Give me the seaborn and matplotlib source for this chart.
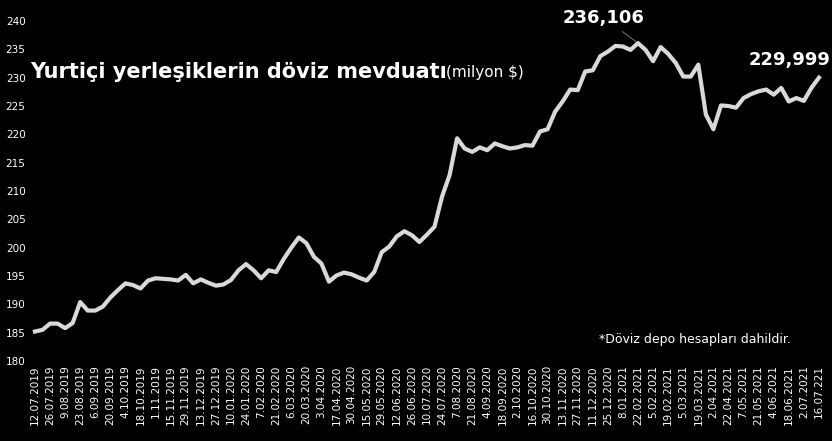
import matplotlib
matplotlib.use("Agg")
import matplotlib.pyplot as plt
import seaborn as sns

degerler = [185.2, 185.5, 186.6, 186.6, 185.8, 186.7, 190.4, 188.9, 188.9, 189.6,
            191.2, 192.5, 193.7, 193.4, 192.8, 194.2, 194.6, 194.5, 194.4, 194.2,
            195.2, 193.7, 194.4, 193.8, 193.3, 193.5, 194.3, 196.0, 197.1, 196.0,
            194.6, 196.0, 195.7, 198.0, 200.0, 201.8, 200.8, 198.4, 197.2, 194.0,
            195.1, 195.6, 195.3, 194.7, 194.2, 195.7, 199.2, 200.2, 202.0, 202.9,
            202.2, 201.0, 202.3, 203.7, 209.0, 212.8, 219.3, 217.5, 216.9, 217.7,
            217.2, 218.4, 217.9, 217.5, 217.7, 218.1, 218.0, 220.5, 220.9, 224.0,
            225.8, 227.9, 227.8, 231.1, 231.3, 233.8, 234.6, 235.6, 235.5, 234.9,
            236.1, 234.9, 232.9, 235.4, 234.2, 232.6, 230.2, 230.2, 232.3, 223.5,
            220.9, 225.1, 225.0, 224.7, 226.4, 227.1, 227.6, 227.9, 227.0, 228.2,
            225.8, 226.4, 225.9, 228.2, 230.0]

etiketler = ["12.07.2019", "26.07.2019", "9.08.2019", "23.08.2019", "6.09.2019",
             "20.09.2019", "4.10.2019", "18.10.2019", "1.11.2019", "15.11.2019",
             "29.11.2019", "13.12.2019", "27.12.2019", "10.01.2020", "24.01.2020",
             "7.02.2020", "21.02.2020", "6.03.2020", "20.03.2020", "3.04.2020",
             "17.04.2020", "30.04.2020", "15.05.2020", "29.05.2020", "12.06.2020",
             "26.06.2020", "10.07.2020", "24.07.2020", "7.08.2020", "21.08.2020",
             "4.09.2020", "18.09.2020", "2.10.2020", "16.10.2020", "30.10.2020",
             "13.11.2020", "27.11.2020", "11.12.2020", "25.12.2020", "8.01.2021",
             "22.02.2021", "5.02.2021", "19.02.2021", "5.03.2021", "19.03.2021",
             "2.04.2021", "22.04.2021", "7.05.2021", "21.05.2021", "4.06.2021",
             "18.06.2021", "2.07.2021", "16.07.221"]

fig = plt.figure(figsize=(8.32, 4.41), dpi=100, facecolor="black")
ax = fig.add_axes([29.7 / 832, 80 / 441, 793 / 832, 340 / 441])
ax.set_facecolor("black")

x = list(range(len(degerler)))
sns.lineplot(x=x, y=degerler, ax=ax, color="#d9d9d9", linewidth=3)

ax.set_xlim(-0.7, 104.5)
ax.set_ylim(180, 240)
ax.set_yticks(range(180, 241, 5))
ax.set_xticks(range(0, len(degerler), 2))
ax.set_xticklabels(etiketler, rotation=90)
ax.tick_params(colors="white", labelsize=7.5, length=0, pad=3)
for s in ax.spines.values():
    s.set_visible(False)
ax.set_xlabel("")
ax.set_ylabel("")

fig.text(30 / 832, 1 - 72 / 441, "Yurtiçi yerleşiklerin döviz mevduatı", color="white",
         fontsize=15, fontweight="bold", va="center")
fig.text(446 / 832, 1 - 72 / 441, "(milyon $)", color="white", fontsize=11, va="center")

ax.annotate("236,106", xy=(80, degerler[80]), xytext=(604 / 832, 1 - 18 / 441),
            textcoords="figure fraction", ha="center", va="center",
            color="white", fontsize=13, fontweight="bold",
            arrowprops=dict(arrowstyle="-", color="#888888", lw=0.6))
fig.text(790 / 832, 1 - 60 / 441, "229,999", color="white", fontsize=13,
         fontweight="bold", ha="center", va="center")
fig.text(695 / 832, 1 - 340 / 441, "*Döviz depo hesapları dahildir.", color="white",
         fontsize=9, ha="center", va="center")

fig.savefig("out.png", dpi=100, facecolor="black")
